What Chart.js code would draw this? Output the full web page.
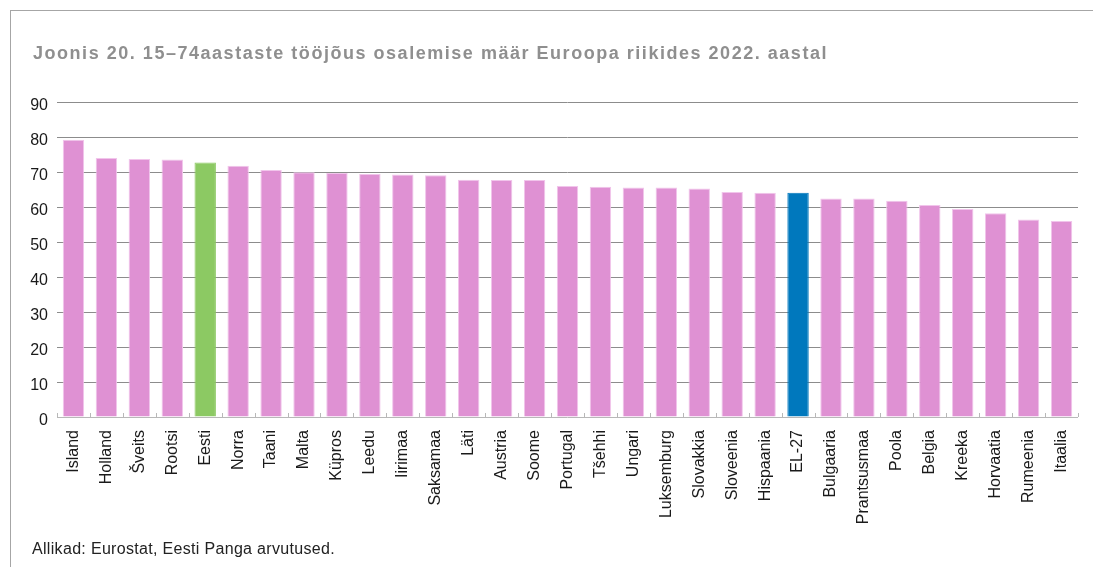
<!DOCTYPE html>
<html>
<head>
<meta charset="utf-8">
<script src="https://cdn.jsdelivr.net/npm/chart.js@4"></script>
<style>
  html, body { margin: 0; padding: 0; background: #fff; }
  #wrap { position: relative; width: 1093px; height: 567px; overflow: hidden; font-family: "Liberation Sans", Arial, Helvetica, sans-serif; }
  #frame { position: absolute; left: 10px; top: 10px; width: 1100px; height: 600px; border-left: 1px solid #a6a6a6; border-top: 1px solid #a6a6a6; }
  #title { position: absolute; left: 33px; top: 43px; font-size: 18px; line-height: 21px; font-weight: bold; color: #8f8f8f; white-space: nowrap; }
  #source { position: absolute; left: 32px; top: 540px; font-size: 16px; line-height: 18px; color: #222; white-space: nowrap; }
  #c { position: absolute; left: 0; top: 0; }
</style>
</head>
<body>
<div id="wrap">
  <div id="frame"></div>
  <canvas id="c" width="1093" height="567"></canvas>
  <div id="title">Joonis 20. 15–74aastaste tööjõus osalemise määr Euroopa riikides 2022. aastal</div>
  <div id="source">Allikad: Eurostat, Eesti Panga arvutused.</div>
</div>
<script>
const categories = ["Island","Holland","Šveits","Rootsi","Eesti","Norra","Taani","Malta","Küpros","Leedu","Iirimaa","Saksamaa","Läti","Austria","Soome","Portugal","Tšehhi","Ungari","Luksemburg","Slovakkia","Sloveenia","Hispaania","EL-27","Bulgaaria","Prantsusmaa","Poola","Belgia","Kreeka","Horvaatia","Rumeenia","Itaalia"];
const values = [79.2,74.0,73.7,73.6,72.7,71.8,70.6,69.9,69.7,69.4,69.3,69.1,67.8,67.7,67.7,66.0,65.8,65.6,65.6,65.3,64.3,64.1,64.1,62.4,62.4,61.8,60.6,59.4,58.2,56.4,56.0];
const yTicks = [0,10,20,30,40,50,60,70,80,90];

const FONT = '"Liberation Sans", Arial, Helvetica, sans-serif';
function fillFor(name){ return name === "Eesti" ? "#8cc963" : (name === "EL-27" ? "#0078bd" : "#df91d3"); }
function borderFor(name){ return name === "Eesti" ? "#8cc963" : (name === "EL-27" ? "#0078bd" : "#f1c5eb"); }

function fitWidth(id, target){
  const el = document.getElementById(id);
  const n = el.textContent.length;
  const w = el.getBoundingClientRect().width;
  el.style.letterSpacing = ((target - w) / n) + 'px';
}
fitWidth('title', 795);
fitWidth('source', 303);

const tickMarks = {
  id: 'tickMarks',
  afterDatasetsDraw(chart){
    const x = chart.scales.x, ctx = chart.ctx, b = chart.chartArea.bottom;
    ctx.save();
    ctx.strokeStyle = '#b8b8b8';
    ctx.lineWidth = 1;
    ctx.beginPath();
    const n = categories.length;
    const step = (x.right - x.left) / n;
    for (let i = 0; i <= n; i++) {
      const px = Math.round(x.getPixelForValue(i) - step/2) + 0.5;
      ctx.moveTo(px, b); ctx.lineTo(px, b - 4);
    }
    ctx.moveTo(x.left, b + 0.5); ctx.lineTo(x.right, b + 0.5);
    ctx.stroke();
    ctx.restore();
  }
};

new Chart(document.getElementById('c'), {
  type: 'bar',
  data: {
    labels: categories,
    datasets: [{
      data: values,
      backgroundColor: categories.map(fillFor),
      borderColor: categories.map(borderFor),
      borderWidth: 1,
      barPercentage: 0.65,
      categoryPercentage: 1.0
    }]
  },
  options: {
    responsive: false,
    animation: false,
    layout: { padding: { left: 0, right: 15, top: 102, bottom: 0 } },
    plugins: { legend: { display: false }, title: { display: false }, tooltip: { enabled: false } },
    scales: {
      x: {
        grid: { display: false },
        border: { display: false },
        ticks: { color: '#1a1a1a', font: { family: FONT, size: 16 }, minRotation: 90, maxRotation: 90, padding: 5, autoSkip: false },
        afterFit(s){ s.height = 150; }
      },
      y: {
        min: 0, max: 90,
        afterBuildTicks(s){ s.ticks = yTicks.map(v => ({ value: v })); },
        grid: { color: (c) => c.tick && c.tick.value === 0 ? 'rgba(0,0,0,0)' : '#8c8c8c', drawTicks: false, lineWidth: 1 },
        border: { display: false },
        ticks: { color: '#1a1a1a', font: { family: FONT, size: 16 }, padding: 9, labelOffset: 4 },
        afterFit(s){ s.width = 57; }
      }
    }
  },
  plugins: [tickMarks]
});
</script>
</body>
</html>
